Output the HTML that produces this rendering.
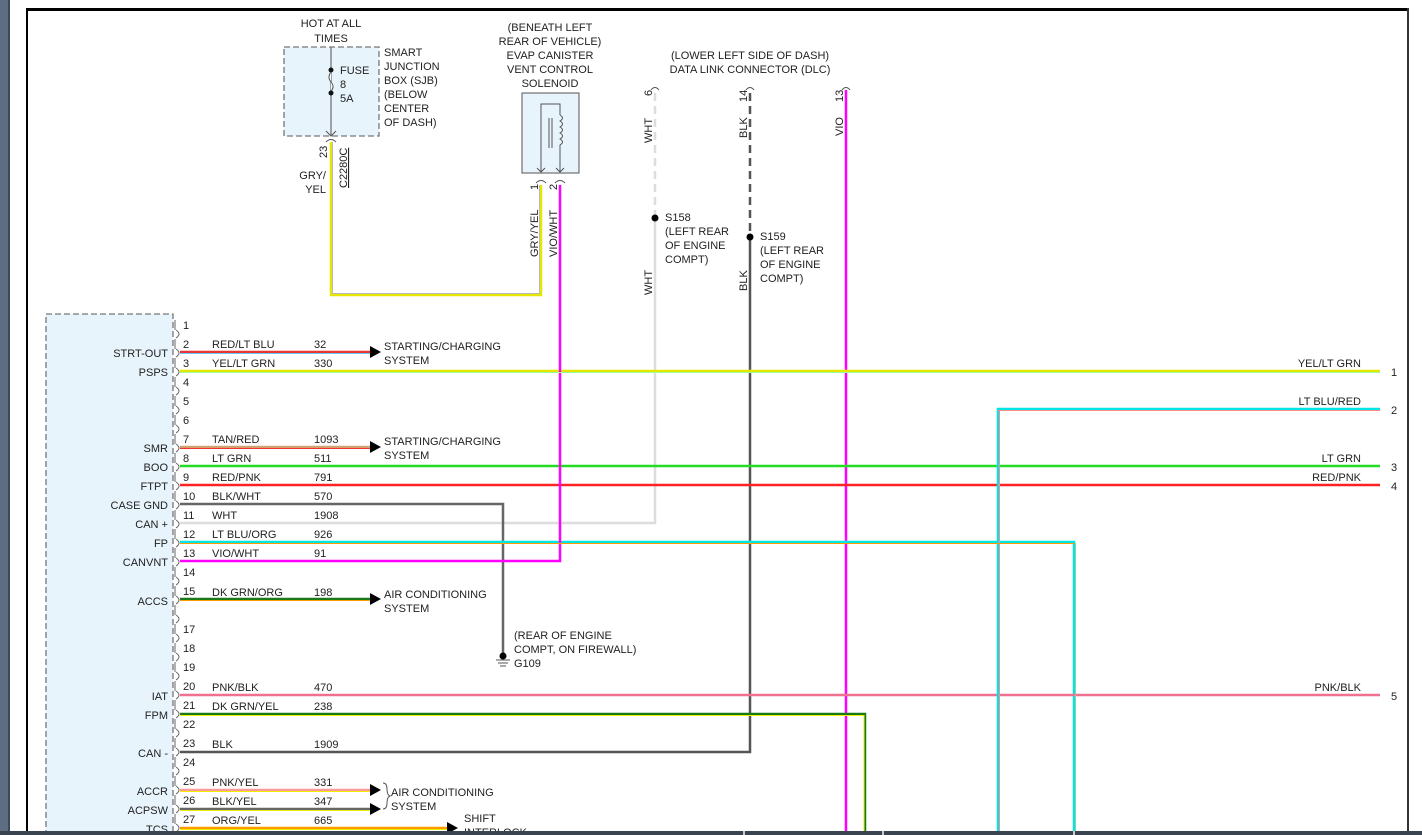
<!DOCTYPE html>
<html><head><meta charset="utf-8"><style>
html,body{margin:0;padding:0;background:#fff;}
svg{display:block;font-family:"Liberation Sans",sans-serif;font-size:11px;fill:#222;}
</style></head><body>
<svg width="1422" height="835" viewBox="0 0 1422 835" xmlns="http://www.w3.org/2000/svg">
<rect x="0" y="0" width="1422" height="835" fill="#fff"/>
<rect x="0" y="0" width="8" height="835" fill="#5d6e82"/>
<rect x="8" y="0" width="2" height="835" fill="#3d4a58"/>
<rect x="26" y="8" width="1383" height="3" fill="#000"/>
<rect x="26" y="8" width="2" height="827" fill="#000"/>
<rect x="1407" y="8" width="2" height="827" fill="#333"/>
<!-- SJB -->
<rect x="284" y="47" width="95" height="89" fill="#e8f4fc" stroke="#777" stroke-dasharray="6,3" stroke-width="1.3"/>
<line x1="331" y1="47" x2="331" y2="136" stroke="#777" stroke-width="1.3"/>
<circle cx="331" cy="70" r="2.5" fill="#111"/><circle cx="331" cy="93" r="2.5" fill="#111"/>
<path d="M331 72 q-4 5 0 10 q4 5 0 9" fill="#fff" stroke="#555"/>
<text x="331" y="27" text-anchor="middle">HOT AT ALL</text><text x="331" y="42" text-anchor="middle">TIMES</text>
<text x="340" y="74">FUSE</text><text x="340" y="88">8</text><text x="340" y="102">5A</text>
<text x="384" y="56">SMART</text><text x="384" y="70">JUNCTION</text><text x="384" y="84">BOX (SJB)</text><text x="384" y="98">(BELOW</text><text x="384" y="112">CENTER</text><text x="384" y="126">OF DASH)</text>
<path d="M326 131 l5 5 l5 -5 M326 142 q5 -5 10 0" fill="none" stroke="#555"/>
<text transform="translate(327,158) rotate(-90)">23</text>
<text transform="translate(347,188) rotate(-90)" text-decoration="underline">C2280C</text>
<text x="326" y="179" text-anchor="end">GRY/</text><text x="326" y="193" text-anchor="end">YEL</text>
<!-- GRY/YEL wire -->
<polyline points="331,142 331,295 541,295 541,185" fill="none" stroke="#e6e600" stroke-width="2.5"/>
<polyline points="332.5,142 332.5,293.5 539.5,293.5 539.5,185" fill="none" stroke="#bbb" stroke-width="1"/>
<!-- solenoid -->
<text x="550" y="31" text-anchor="middle">(BENEATH LEFT</text><text x="550" y="45" text-anchor="middle">REAR OF VEHICLE)</text><text x="550" y="59" text-anchor="middle">EVAP CANISTER</text><text x="550" y="73" text-anchor="middle">VENT CONTROL</text><text x="550" y="87" text-anchor="middle">SOLENOID</text>
<rect x="522" y="93" width="57" height="80" fill="#e8f4fc" stroke="#555"/>
<polyline points="541,172 541,104 560,104 560,115" fill="none" stroke="#555"/>
<path d="M560 115 q5 3 0 6 q5 3 0 6 q5 3 0 6 q5 3 0 6 q5 3 0 6 L560 172" fill="none" stroke="#555"/>
<line x1="549" y1="118" x2="549" y2="148" stroke="#555"/><line x1="552" y1="118" x2="552" y2="148" stroke="#555"/>
<path d="M537 168 l4 4 l4 -4 M556 168 l4 4 l4 -4 M536 183 q5 -5 10 0 M555 183 q5 -5 10 0" fill="none" stroke="#555"/>
<text transform="translate(538,190) rotate(-90)">1</text><text transform="translate(557,190) rotate(-90)">2</text>
<text transform="translate(538,257) rotate(-90)">GRY/YEL</text><text transform="translate(557,257) rotate(-90)">VIO/WHT</text>
<!-- DLC -->
<text x="750" y="59" text-anchor="middle">(LOWER LEFT SIDE OF DASH)</text><text x="750" y="73" text-anchor="middle">DATA LINK CONNECTOR (DLC)</text>
<path d="M651 90 q4 -5 8 0 M746 90 q4 -5 8 0 M842 90 q4 -5 8 0" fill="none" stroke="#555"/>
<text transform="translate(652,96) rotate(-90)">6</text><text transform="translate(747,102) rotate(-90)">14</text><text transform="translate(843,102) rotate(-90)">13</text>
<text transform="translate(652,143) rotate(-90)">WHT</text><text transform="translate(747,138) rotate(-90)">BLK</text><text transform="translate(843,136) rotate(-90)">VIO</text>
<text transform="translate(652,295) rotate(-90)">WHT</text><text transform="translate(747,291) rotate(-90)">BLK</text>
<line x1="655" y1="93" x2="655" y2="218" stroke="#ddd" stroke-width="2.5" stroke-dasharray="8,5"/>
<line x1="750" y1="93" x2="750" y2="237" stroke="#555" stroke-width="2.5" stroke-dasharray="8,5"/>
<polyline points="655,218 655,523 180,523" fill="none" stroke="#ddd" stroke-width="2.5"/>
<polyline points="750,237 750,752 180,752" fill="none" stroke="#555" stroke-width="2.5"/>
<circle cx="655" cy="218" r="3.5" fill="#000"/><circle cx="750" cy="237" r="3.5" fill="#000"/>
<text x="665" y="221">S158</text><text x="665" y="235">(LEFT REAR</text><text x="665" y="249">OF ENGINE</text><text x="665" y="263">COMPT)</text>
<text x="760" y="240">S159</text><text x="760" y="254">(LEFT REAR</text><text x="760" y="268">OF ENGINE</text><text x="760" y="282">COMPT)</text>
<line x1="846" y1="90" x2="846" y2="835" stroke="#f0f" stroke-width="2.5"/>
<!-- PCM box -->
<rect x="46" y="314" width="127" height="530" fill="#e8f4fc" stroke="#777" stroke-dasharray="6,3" stroke-width="1.3"/>
<g id="br" fill="none" stroke="#666">
<path d="M175 320 v10 M176 330 q6 4 0 8 M175 339 v10 M176 349 q6 4 0 8 M175 358 v10 M176 368 q6 4 0 8 M175 377 v10 M176 387 q6 4 0 8 M175 396 v10 M176 406 q6 4 0 8 M175 415 v10 M176 425 q6 4 0 8 M175 434 v10 M176 444 q6 4 0 8 M175 453 v10 M176 463 q6 4 0 8 M175 472 v10 M176 482 q6 4 0 8 M175 491 v10 M176 501 q6 4 0 8 M175 510 v10 M176 520 q6 4 0 8 M175 529 v10 M176 539 q6 4 0 8 M175 548 v10 M176 558 q6 4 0 8 M175 567 v10 M176 577 q6 4 0 8 M175 586 v10 M176 596 q6 4 0 8 M175 605 v10 M176 615 q6 4 0 8 M175 624 v10 M176 634 q6 4 0 8 M175 643 v10 M176 653 q6 4 0 8 M175 662 v10 M176 672 q6 4 0 8 M175 681 v10 M176 691 q6 4 0 8 M175 700 v10 M176 710 q6 4 0 8 M175 719 v10 M176 729 q6 4 0 8 M175 738 v10 M176 748 q6 4 0 8 M175 757 v10 M176 767 q6 4 0 8 M175 776 v10 M176 786 q6 4 0 8 M175 795 v10 M176 805 q6 4 0 8 M175 814 v10 M176 824 q6 4 0 8"/>
</g>
<g>
<text x="183" y="329">1</text><text x="183" y="348">2</text><text x="183" y="367">3</text><text x="183" y="386">4</text><text x="183" y="405">5</text><text x="183" y="424">6</text><text x="183" y="443">7</text><text x="183" y="462">8</text><text x="183" y="481">9</text><text x="183" y="500">10</text><text x="183" y="519">11</text><text x="183" y="538">12</text><text x="183" y="557">13</text><text x="183" y="576">14</text><text x="183" y="595">15</text><text x="183" y="633">17</text><text x="183" y="652">18</text><text x="183" y="671">19</text><text x="183" y="690">20</text><text x="183" y="709">21</text><text x="183" y="728">22</text><text x="183" y="747">23</text><text x="183" y="766">24</text><text x="183" y="785">25</text><text x="183" y="804">26</text><text x="183" y="823">27</text>
</g>
<g text-anchor="end">
<text x="168" y="357">STRT-OUT</text><text x="168" y="376">PSPS</text><text x="168" y="452">SMR</text><text x="168" y="471">BOO</text><text x="168" y="490">FTPT</text><text x="168" y="509">CASE GND</text><text x="168" y="528">CAN +</text><text x="168" y="547">FP</text><text x="168" y="566">CANVNT</text><text x="168" y="605">ACCS</text><text x="168" y="700">IAT</text><text x="168" y="719">FPM</text><text x="168" y="757">CAN -</text><text x="168" y="795">ACCR</text><text x="168" y="814">ACPSW</text><text x="168" y="833">TCS</text>
</g>
<g>
<text x="212" y="348">RED/LT BLU</text><text x="314" y="348">32</text>
<text x="212" y="367">YEL/LT GRN</text><text x="314" y="367">330</text>
<text x="212" y="443">TAN/RED</text><text x="314" y="443">1093</text>
<text x="212" y="462">LT GRN</text><text x="314" y="462">511</text>
<text x="212" y="481">RED/PNK</text><text x="314" y="481">791</text>
<text x="212" y="500">BLK/WHT</text><text x="314" y="500">570</text>
<text x="212" y="519">WHT</text><text x="314" y="519">1908</text>
<text x="212" y="538">LT BLU/ORG</text><text x="314" y="538">926</text>
<text x="212" y="557">VIO/WHT</text><text x="314" y="557">91</text>
<text x="212" y="596">DK GRN/ORG</text><text x="314" y="596">198</text>
<text x="212" y="691">PNK/BLK</text><text x="314" y="691">470</text>
<text x="212" y="710">DK GRN/YEL</text><text x="314" y="710">238</text>
<text x="212" y="748">BLK</text><text x="314" y="748">1909</text>
<text x="212" y="786">PNK/YEL</text><text x="314" y="786">331</text>
<text x="212" y="805">BLK/YEL</text><text x="314" y="805">347</text>
<text x="212" y="824">ORG/YEL</text><text x="314" y="824">665</text>
</g>
<!-- wires -->
<g fill="none" stroke-width="2.5">
<line x1="180" y1="352" x2="372" y2="352" stroke="#e33"/>
<line x1="180" y1="371" x2="1380" y2="371" stroke="#e6e600"/>
<line x1="180" y1="447" x2="372" y2="447" stroke="#d4a070"/>
<line x1="180" y1="466" x2="1380" y2="466" stroke="#22dd22"/>
<line x1="180" y1="485" x2="1380" y2="485" stroke="#f22"/>
<polyline points="180,504 503,504 503,655" stroke="#666"/>
<polyline points="180,542 1074,542 1074,835" stroke="#00e5e5"/>
<polyline points="180,561 560,561 560,185" stroke="#f0f"/>
<line x1="180" y1="599" x2="372" y2="599" stroke="#1a7a1a"/>
<line x1="180" y1="695" x2="1380" y2="695" stroke="#f07090"/>
<polyline points="180,714 865,714 865,835" stroke="#1a7a1a"/>
<polyline points="1380,409 998,409 998,835" stroke="#00e5e5"/>
<line x1="180" y1="790" x2="370" y2="790" stroke="#ff9999"/>
<line x1="180" y1="809" x2="370" y2="809" stroke="#666"/>
<line x1="180" y1="828" x2="450" y2="828" stroke="#f90"/>
</g>
<g fill="none" stroke-width="1">
<line x1="180" y1="353.5" x2="372" y2="353.5" stroke="#6cf"/>
<line x1="180" y1="372.5" x2="1380" y2="372.5" stroke="#9f9"/>
<line x1="180" y1="448.5" x2="372" y2="448.5" stroke="#e33"/>
<line x1="180" y1="543.5" x2="1074" y2="543.5" stroke="#f90"/>
<line x1="1075.5" y1="543" x2="1075.5" y2="835" stroke="#9c9"/>
<line x1="180" y1="600.5" x2="372" y2="600.5" stroke="#f90"/>
<line x1="180" y1="715.5" x2="864" y2="715.5" stroke="#ee0"/>
<line x1="864" y1="715" x2="864" y2="835" stroke="#ee0"/>
<line x1="998" y1="410.5" x2="1380" y2="410.5" stroke="#f88"/>
<line x1="999.5" y1="410" x2="999.5" y2="835" stroke="#f88"/>
<line x1="180" y1="791.5" x2="370" y2="791.5" stroke="#ee0"/>
<line x1="180" y1="810.5" x2="370" y2="810.5" stroke="#ee0"/>
<line x1="180" y1="829.5" x2="450" y2="829.5" stroke="#ee0"/>
</g>
<g fill="#000">
<path d="M370 346 l11 6 l-11 6z"/><path d="M370 441 l11 6 l-11 6z"/><path d="M370 593 l11 6 l-11 6z"/>
<path d="M370 784 l11 6 l-11 6z"/><path d="M370 803 l11 6 l-11 6z"/><path d="M447 822 l11 6 l-11 6z"/>
</g>
<path d="M383 783 q4 0 4 6 q0 6 3 7 q-3 1 -3 7 q0 6 -4 6" fill="none" stroke="#555"/>
<text x="384" y="350">STARTING/CHARGING</text><text x="384" y="364">SYSTEM</text>
<text x="384" y="445">STARTING/CHARGING</text><text x="384" y="459">SYSTEM</text>
<text x="384" y="598">AIR CONDITIONING</text><text x="384" y="612">SYSTEM</text>
<text x="391" y="796">AIR CONDITIONING</text><text x="391" y="810">SYSTEM</text>
<text x="464" y="822">SHIFT</text><text x="464" y="836">INTERLOCK</text>
<!-- ground -->
<circle cx="503" cy="656" r="3.5" fill="#000"/>
<path d="M496 660 h14 M498 663 h10 M500 666 h6" stroke="#555" fill="none"/>
<text x="514" y="639">(REAR OF ENGINE</text><text x="514" y="653">COMPT, ON FIREWALL)</text><text x="514" y="667">G109</text>
<!-- right labels -->
<g text-anchor="end">
<text x="1361" y="367">YEL/LT GRN</text><text x="1361" y="405">LT BLU/RED</text><text x="1361" y="462">LT GRN</text><text x="1361" y="481">RED/PNK</text><text x="1361" y="691">PNK/BLK</text>
</g>
<text x="1391" y="376">1</text><text x="1391" y="414">2</text><text x="1391" y="471">3</text><text x="1391" y="490">4</text><text x="1391" y="700">5</text>
<!-- bottom bar -->
<rect x="0" y="831" width="1422" height="4" fill="#3a4450"/>
<rect x="743" y="831" width="2" height="4" fill="#ccc"/><rect x="882" y="831" width="2" height="4" fill="#ccc"/><rect x="1073" y="831" width="2" height="4" fill="#ccc"/>
</svg>
</body></html>
